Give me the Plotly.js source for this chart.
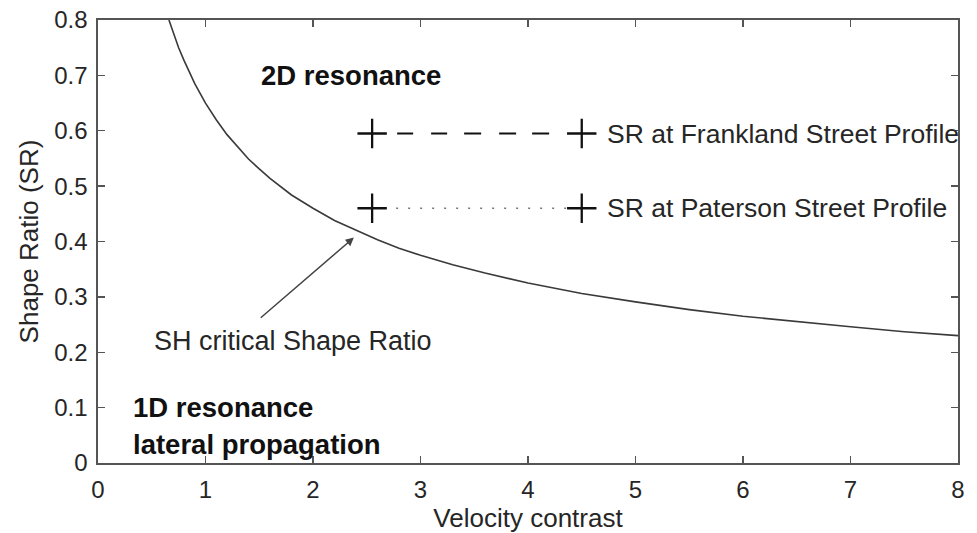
<!DOCTYPE html>
<html>
<head>
<meta charset="utf-8">
<script src="https://cdn.plot.ly/plotly-3.0.1.min.js"></script>
<style>html,body{margin:0;padding:0;background:#fff;}#chart{width:977px;height:533px;}</style>
</head>
<body>
<div id="chart"></div>
<script>
// Critical shape ratio curve
const contrastX = [0.66, 0.70, 0.75, 0.80, 0.90, 1.0, 1.1, 1.2, 1.3, 1.4, 1.5, 1.6, 1.8, 2.0, 2.2, 2.4, 2.6, 2.8, 3.0, 3.3, 3.6, 4.0, 4.5, 5.0, 5.5, 6.0, 6.5, 7.0, 7.5, 8.0];
const criticalSR = [0.80, 0.777, 0.75, 0.727, 0.685, 0.65, 0.62, 0.593, 0.57, 0.549, 0.531, 0.514, 0.484, 0.46, 0.438, 0.42, 0.403, 0.388, 0.375, 0.358, 0.343, 0.325, 0.306, 0.291, 0.277, 0.265, 0.255, 0.246, 0.237, 0.23];

// Site shape ratios
const franklandX = [2.55, 4.5];
const franklandSR = [0.595, 0.595];
const patersonX = [2.55, 4.5];
const patersonSR = [0.46, 0.46];

const xTicks = [0, 1, 2, 3, 4, 5, 6, 7, 8];
const yTicks = [0, 0.1, 0.2, 0.3, 0.4, 0.5, 0.6, 0.7, 0.8];
const yTickText = ['0', '0.1', '0.2', '0.3', '0.4', '0.5', '0.6', '0.7', '0.8'];

const FONT = 'Liberation Sans, Arial, Helvetica, sans-serif';
const TXT = '#262626';

const traces = [
  {x: contrastX, y: criticalSR, mode: 'lines', line: {color: '#3a3a3a', width: 1.6}, hoverinfo: 'skip'},
  {x: franklandX, y: franklandSR, mode: 'lines+markers',
   line: {color: '#111', width: 2.2, dash: '0px,25px,16px,18px,16px,17px,17px,18px,17px,16px,17px,60px'},
   marker: {symbol: 'cross-thin', size: 21, line: {color: '#111', width: 2.3}}},
  {x: patersonX, y: patersonSR, mode: 'lines+markers',
   line: {color: '#777', width: 1.3, dash: '2px,10px'},
   marker: {symbol: 'cross-thin', size: 21, line: {color: '#111', width: 2.3}}}
];

const ann = (x, y, text, size, bold) => ({
  x: x, y: y, xref: 'x', yref: 'y', text: bold ? '<b>' + text + '</b>' : text,
  showarrow: false, xanchor: 'left', yanchor: 'middle',
  font: {family: FONT, size: size, color: bold ? '#111' : TXT}
});

const layout = {
  width: 977, height: 533,
  margin: {l: 98, r: 19, t: 20, b: 70},
  paper_bgcolor: '#fff', plot_bgcolor: '#fff',
  showlegend: false,
  font: {family: FONT, color: TXT},
  xaxis: {
    range: [0, 8], tickvals: xTicks, ticks: 'inside', ticklen: 7, tickwidth: 1.3, tickcolor: '#555',
    mirror: 'ticks', showline: true, linecolor: '#555', linewidth: 1.6,
    showgrid: false, zeroline: false, ticklabelstandoff: 5,
    tickfont: {family: FONT, size: 24, color: TXT},
    title: {text: 'Velocity contrast', font: {family: FONT, size: 26, color: TXT}, standoff: 2}
  },
  yaxis: {
    range: [0, 0.8], tickvals: yTicks, ticktext: yTickText, ticks: 'inside', ticklen: 7, tickwidth: 1.3, tickcolor: '#555',
    mirror: 'ticks', showline: true, linecolor: '#555', linewidth: 1.6,
    showgrid: false, zeroline: false, ticklabelstandoff: 4,
    tickfont: {family: FONT, size: 24, color: TXT},
    title: {text: 'Shape Ratio (SR)', font: {family: FONT, size: 26, color: TXT}, standoff: 8}
  },
  annotations: [
    ann(1.5, 0.70, '2D resonance', 27.5, true),
    ann(4.72, 0.595, 'SR at Frankland Street Profile', 26.5, false),
    ann(4.72, 0.46, 'SR at Paterson Street Profile', 26.5, false),
    ann(0.5, 0.221, 'SH critical Shape Ratio', 27, false),
    ann(0.31, 0.10, '1D resonance', 27.5, true),
    ann(0.31, 0.034, 'lateral propagation', 27.5, true),
    {x: 2.38, y: 0.407, ax: 1.5, ay: 0.26, xref: 'x', yref: 'y', axref: 'x', ayref: 'y',
     text: '', showarrow: true, arrowhead: 2, arrowsize: 1.1, arrowwidth: 1.5, arrowcolor: '#444'}
  ]
};

Plotly.newPlot('chart', traces, layout, {staticPlot: true, displayModeBar: false});
</script>
</body>
</html>
